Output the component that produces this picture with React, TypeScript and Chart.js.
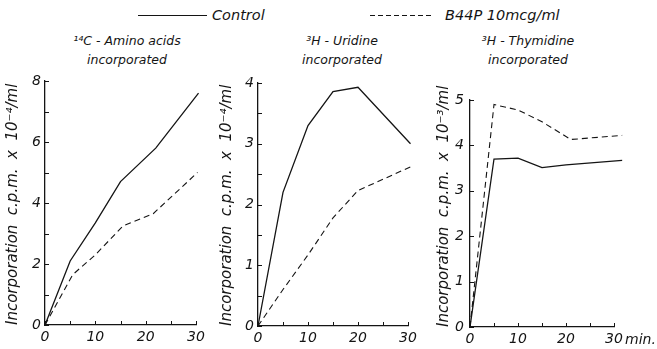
import React, { useEffect, useRef } from "react";
import { Chart, registerables } from "chart.js";
Chart.register(...registerables);

// ---- Data (minutes vs incorporation) ----
const aminoControlX = [0, 5, 10, 15, 22, 30.5];
const aminoControlY = [0, 2.1, 3.35, 4.7, 5.8, 7.6];
const aminoB44PX = [0, 5.5, 10, 15.5, 21.5, 30.3];
const aminoB44PY = [0, 1.65, 2.3, 3.25, 3.65, 5.0];

const uridineControlX = [0, 5, 10, 15, 20, 30.5];
const uridineControlY = [0, 2.2, 3.3, 3.86, 3.93, 3.0];
const uridineB44PX = [0, 5, 10, 15, 20, 30.5];
const uridineB44PY = [0, 0.6, 1.17, 1.78, 2.23, 2.62];

const thymControlX = [0, 5, 10, 15, 20, 31.7];
const thymControlY = [0, 3.7, 3.72, 3.51, 3.57, 3.67];
const thymB44PX = [0, 5, 10, 15, 21, 31.7];
const thymB44PY = [0, 4.9, 4.78, 4.52, 4.13, 4.22];

const xTickLabels = [0, 10, 20, 30];
const legendLabels = ["Control", "B44P 10mcg/ml"];
const panelTitles = [
  ["¹⁴C - Amino acids", "incorporated"],
  ["³H - Uridine", "incorporated"],
  ["³H - Thymidine", "incorporated"],
];
const yTitles = [
  "Incorporation  c.p.m.  x  10⁻⁴/ml",
  "Incorporation  c.p.m.  x  10⁻⁴/ml",
  "Incorporation  c.p.m.  x  10⁻³/ml",
];

const INK = "#141414";
const FONT = "'DejaVu Sans', 'Liberation Sans', sans-serif";

const zip = (xs: number[], ys: number[]) => xs.map((x, i) => ({ x, y: ys[i] }));

const innerTicks = {
  id: "innerTicks",
  afterDraw(chart: any, _args: any, opts: any) {
    const { ctx, chartArea, scales } = chart;
    const xs = scales.x;
    const ys = scales.y;
    ctx.save();
    ctx.strokeStyle = INK;
    ctx.lineWidth = 1;
    for (let v = xs.min; v <= xs.max + 1e-9; v += opts.xMinor) {
      const px = Math.round(xs.getPixelForValue(v)) + 0.5;
      ctx.beginPath();
      ctx.moveTo(px, chartArea.bottom);
      ctx.lineTo(px, chartArea.bottom - 4);
      ctx.stroke();
    }
    for (let v = ys.min; v <= ys.max + 1e-9; v += opts.yMinor) {
      const py = Math.round(ys.getPixelForValue(v)) + 0.5;
      ctx.beginPath();
      ctx.moveTo(chartArea.left, py);
      ctx.lineTo(chartArea.left + 4, py);
      ctx.stroke();
    }
    ctx.restore();
  },
};

type PanelProps = {
  left: number;
  width: number;
  padTop: number;
  padRight: number;
  yWidth: number;
  xHeight: number;
  yMax: number;
  yStep: number;
  yMinor: number;
  yTitle: string;
  yTitlePad: number;
  yTickPad: number;
  control: { x: number; y: number }[];
  b44p: { x: number; y: number }[];
};

function Panel(p: PanelProps) {
  const ref = useRef<HTMLCanvasElement>(null);
  useEffect(() => {
    if (!ref.current) return;
    const chart = new Chart(ref.current, {
      type: "line",
      data: {
        datasets: [
          {
            label: legendLabels[0],
            data: p.control,
            borderColor: INK,
            borderWidth: 1.3,
            pointRadius: 0,
            tension: 0,
            clip: false as any,
          },
          {
            label: legendLabels[1],
            data: p.b44p,
            borderColor: INK,
            borderWidth: 1.1,
            borderDash: [6, 4],
            pointRadius: 0,
            tension: 0,
            clip: false as any,
          },
        ],
      },
      options: {
        animation: false,
        responsive: false,
        maintainAspectRatio: false,
        layout: { padding: { top: p.padTop, right: p.padRight, left: 0, bottom: 0 } },
        plugins: {
          legend: { display: false },
          tooltip: { enabled: false },
          innerTicks: { xMinor: 5, yMinor: p.yMinor },
        } as any,
        scales: {
          x: {
            type: "linear",
            min: 0,
            max: 30,
            afterBuildTicks: (s: any) => {
              s.ticks = xTickLabels.map((v) => ({ value: v }));
            },
            ticks: {
              color: INK,
              padding: 4,
              maxRotation: 0,
              font: { family: FONT, size: 14, style: "italic" },
              callback: (v: any) => String(v),
            },
            grid: { display: true, drawOnChartArea: false, drawTicks: false },
            border: { color: INK, width: 1.3 },
            afterFit: (s: any) => {
              s.height = p.xHeight;
            },
          },
          y: {
            type: "linear",
            min: 0,
            max: p.yMax,
            ticks: {
              color: INK,
              stepSize: p.yStep,
              padding: p.yTickPad,
              font: { family: FONT, size: 14, style: "italic" },
            },
            grid: { display: true, drawOnChartArea: false, drawTicks: false },
            border: { color: INK, width: 1.3 },
            title: {
              display: true,
              text: p.yTitle,
              color: INK,
              align: "start",
              padding: { top: p.yTitlePad, bottom: 0 },
              font: { family: FONT, size: 15, style: "italic" },
            },
            afterFit: (s: any) => {
              s.width = p.yWidth;
            },
          },
        },
      },
      plugins: [innerTicks as any],
    });
    return () => chart.destroy();
  }, []);
  return (
    <canvas
      ref={ref}
      width={p.width}
      height={319}
      style={{ position: "absolute", left: p.left, top: 30, width: p.width, height: 319 }}
    />
  );
}

const textStyle: React.CSSProperties = {
  position: "absolute",
  fontFamily: FONT,
  fontStyle: "italic",
  color: INK,
  whiteSpace: "nowrap",
  lineHeight: 1,
};

function Title({ cx, lines }: { cx: number; lines: string[] }) {
  return (
    <>
      <div style={{ ...textStyle, left: cx - 90, width: 180, top: 35, textAlign: "center", fontSize: 12.5 }}>
        {lines[0]}
      </div>
      <div style={{ ...textStyle, left: cx - 90, width: 180, top: 54, textAlign: "center", fontSize: 12.5 }}>
        {lines[1]}
      </div>
    </>
  );
}

export default function App() {
  useEffect(() => {
    document.body.style.margin = "0";
  }, []);
  return (
    <div style={{ position: "relative", width: 657, height: 349, background: "#fff", overflow: "hidden" }}>
      {/* legend */}
      <div style={{ position: "absolute", left: 138, top: 15, width: 69, height: 0, borderTop: `1.4px solid ${INK}` }} />
      <div style={{ ...textStyle, left: 212, top: 8, fontSize: 14.5 }}>{legendLabels[0]}</div>
      <div
        style={{
          position: "absolute",
          left: 370,
          top: 15,
          width: 63,
          height: 1.3,
          background: `repeating-linear-gradient(to right, ${INK} 0 5px, transparent 5px 8px)`,
        }}
      />
      <div style={{ ...textStyle, left: 445, top: 8, fontSize: 14.5 }}>{legendLabels[1]}</div>

      <Title cx={127} lines={panelTitles[0]} />
      <Title cx={342} lines={panelTitles[1]} />
      <Title cx={528} lines={panelTitles[2]} />

      <Panel
        left={0}
        width={215}
        padTop={51}
        padRight={19}
        yWidth={45}
        xHeight={24}
        yMax={8}
        yStep={2}
        yMinor={1}
        yTitle={yTitles[0]}
        yTitlePad={4}
        yTickPad={4}
        control={zip(aminoControlX, aminoControlY)}
        b44p={zip(aminoB44PX, aminoB44PY)}
      />
      <Panel
        left={215}
        width={210}
        padTop={53}
        padRight={17}
        yWidth={43}
        xHeight={23}
        yMax={4}
        yStep={1}
        yMinor={0.5}
        yTitle={yTitles[1]}
        yTitlePad={3}
        yTickPad={4}
        control={zip(uridineControlX, uridineControlY)}
        b44p={zip(uridineB44PX, uridineB44PY)}
      />
      <Panel
        left={425}
        width={232}
        padTop={70}
        padRight={43}
        yWidth={45}
        xHeight={22}
        yMax={5}
        yStep={1}
        yMinor={1}
        yTitle={yTitles[2]}
        yTitlePad={10}
        yTickPad={6}
        control={zip(thymControlX, thymControlY)}
        b44p={zip(thymB44PX, thymB44PY)}
      />
      <div style={{ ...textStyle, left: 625, top: 332, fontSize: 14 }}>min.</div>
    </div>
  );
}
